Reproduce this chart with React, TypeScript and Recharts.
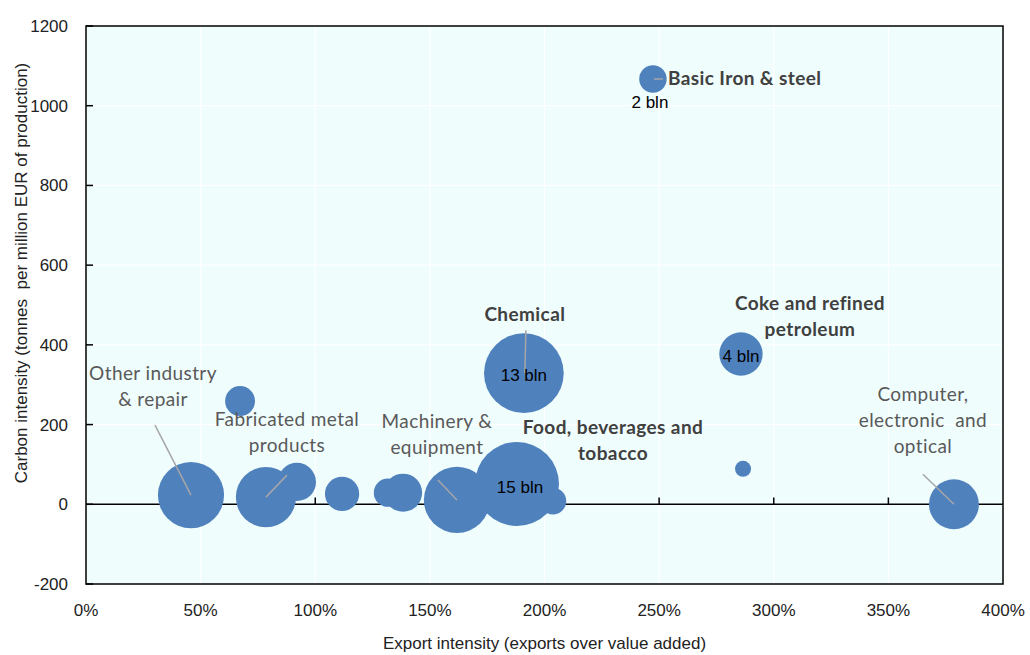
import React from 'react'
import {
  ScatterChart,
  Scatter,
  XAxis,
  YAxis,
  ZAxis,
  CartesianGrid,
  ReferenceLine,
  ReferenceArea,
  Label,
} from 'recharts'

// export intensity (share of value added), carbon intensity, output in bln EUR
const exportIntensity = [0.458, 0.672, 0.785, 0.92, 1.117, 1.317, 1.383, 1.618, 1.88, 2.037, 1.91, 2.473, 2.857, 2.866, 3.786]
const carbonIntensity = [23, 259, 18, 56, 26, 29, 29, 11, 51, 8, 329, 1067, 377, 89, 0]
const outputBln = [9.3, 1.9, 7.7, 3.1, 2.5, 1.7, 3.1, 9.3, 15, 1.5, 13.5, 1.6, 4, 0.55, 5.3]

const sectorLabels: string[][] = [
  ['Other industry', '& repair'],
  [],
  ['Fabricated metal', 'products'],
  [],
  [],
  [],
  [],
  ['Machinery &', 'equipment'],
  ['Food, beverages and', 'tobacco'],
  [],
  ['Chemical'],
  ['Basic Iron & steel'],
  ['Coke and refined', 'petroleum'],
  [],
  ['Computer,', 'electronic  and', 'optical'],
]
const sizeLabels = ['', '', '', '', '', '', '', '', '15 bln', '', '13 bln', '2 bln', '4 bln', '', '']

const xTicks = [0, 0.5, 1, 1.5, 2, 2.5, 3, 3.5, 4]
const yTicks = [-200, 0, 200, 400, 600, 800, 1000, 1200]

const data = exportIntensity.map((x, i) => ({
  id: i,
  x,
  y: carbonIntensity[i],
  z: outputBln[i],
}))

const AXIS_FONT = 'Arial, "Liberation Sans", sans-serif'
const NOTE_FONT = 'Lato, "Open Sans", sans-serif'
const BUBBLE = '#4f81bd'

// label placement relative to bubble centre, in px
type Note = {
  dx: number
  dy: number
  bold?: boolean
  anchor?: 'start' | 'middle' | 'end'
  leader?: [number, number, number, number]
  vdx?: number
  vdy?: number
}
const noteLayout: Record<number, Note> = {
  0: { dx: -38, dy: -121, leader: [-36, -70, 0, 0] },
  2: { dx: 21, dy: -77, leader: [21, -22, 0, 0] },
  7: { dx: -20, dy: -78, leader: [-19, -20, 0, 0] },
  8: { dx: 96, dy: -56, bold: true, vdx: 3, vdy: 3 },
  10: { dx: 1, dy: -58, bold: true, leader: [2, -43, 1, 0], vdx: 0, vdy: 2 },
  11: { dx: 15, dy: 0, bold: true, anchor: 'start', leader: [1, 0, 10, 0], vdx: -3, vdy: 23 },
  12: { dx: 69, dy: -50, bold: true, vdx: 0, vdy: 2 },
  14: { dx: -31, dy: -109, leader: [-31, -30, 0, 0] },
}

const XTick = ({ x, y, payload }: any) => (
  <text x={x} y={y + 32} textAnchor="middle" fontSize={17} fill="#222" fontFamily={AXIS_FONT}>
    {Math.round(payload.value * 100)}%
  </text>
)

const YTick = ({ x, y, payload }: any) => (
  <g>
    <line x1={x} x2={x + 7} y1={y} y2={y} stroke="#000" strokeWidth={1.5} />
    <text x={x - 18} y={y + 6} textAnchor="end" fontSize={17} fill="#222" fontFamily={AXIS_FONT}>
      {payload.value}
    </text>
  </g>
)

const NoteShape = (props: any) => {
  const { cx, cy, payload } = props
  const lay = noteLayout[payload.id]
  if (!lay) return <g />
  const lines = sectorLabels[payload.id]
  const value = sizeLabels[payload.id]
  return (
    <g>
      {lay.leader && (
        <line
          x1={cx + lay.leader[0]}
          y1={cy + lay.leader[1]}
          x2={cx + lay.leader[2]}
          y2={cy + lay.leader[3]}
          stroke="#a6a6a6"
          strokeWidth={1.5}
        />
      )}
      {lines.map((t, k) => (
        <text
          key={k}
          x={cx + lay.dx}
          y={cy + lay.dy + k * 26 + 6}
          textAnchor={lay.anchor || 'middle'}
          fontSize={19}
          letterSpacing={0.4}
          fontFamily={NOTE_FONT}
          fontWeight={lay.bold ? 700 : 400}
          fill={lay.bold ? '#404040' : '#595959'}
          style={{ whiteSpace: 'pre' }}
        >
          {t}
        </text>
      ))}
      {value && (
        <text
          x={cx + (lay.vdx || 0)}
          y={cy + (lay.vdy || 0) + 6}
          textAnchor="middle"
          fontSize={17}
          fontFamily={AXIS_FONT}
          fill="#000"
        >
          {value}
        </text>
      )}
    </g>
  )
}

export default function App() {
  return (
    <div style={{ position: 'absolute', left: 0, top: 0, width: 1030, height: 655, background: '#fff' }}>
      <ScatterChart width={1030} height={655} margin={{ top: 26, right: 27, left: 0, bottom: 0 }}>
        <CartesianGrid fill="#effdfd" stroke="#ffffff" strokeWidth={1.2} />
        <XAxis
          type="number"
          dataKey="x"
          domain={[0, 4]}
          ticks={xTicks}
          height={71}
          axisLine={false}
          tickLine={false}
          tickSize={0}
          tickMargin={0}
          tick={XTick}
          interval={0}
        >
          <Label
            content={({ viewBox }: any) => (
              <text
                x={viewBox.x + viewBox.width / 2}
                y={viewBox.y + 65}
                textAnchor="middle"
                fontSize={17}
                fill="#222"
                fontFamily={AXIS_FONT}
              >
                Export intensity (exports over value added)
              </text>
            )}
          />
        </XAxis>
        <YAxis
          type="number"
          dataKey="y"
          domain={[-200, 1200]}
          ticks={yTicks}
          width={86}
          axisLine={false}
          tickLine={false}
          tickSize={0}
          tickMargin={0}
          tick={YTick}
          interval={0}
        >
          <Label
            content={({ viewBox }: any) => {
              const cx = viewBox.x + 27
              const cy = viewBox.y + viewBox.height / 2 - 32
              return (
                <text
                  x={cx}
                  y={cy}
                  transform={`rotate(-90 ${cx} ${cy})`}
                  textAnchor="middle"
                  fontSize={17}
                  fill="#222"
                  fontFamily={AXIS_FONT}
                  style={{ whiteSpace: 'pre' }}
                >
                  Carbon intensity (tonnes  per million EUR of production)
                </text>
              )
            }}
          />
        </YAxis>
        <ZAxis type="number" dataKey="z" domain={[0, 15]} range={[0, Math.PI * 42 * 42]} />
        <ReferenceLine y={0} stroke="#000" strokeWidth={1.5} />
        {xTicks.slice(1, -1).map((t) => (
          <ReferenceLine
            key={t}
            segment={[
              { x: t, y: 0 },
              { x: t, y: 17 },
            ]}
            stroke="#000"
            strokeWidth={1.5}
          />
        ))}
        <ReferenceArea x1={0} x2={4} y1={-200} y2={1200} fill="none" stroke="#000" strokeWidth={1.5} />
        <Scatter data={data} fill={BUBBLE} isAnimationActive={false} />
        <Scatter data={data} shape={NoteShape} isAnimationActive={false} />
      </ScatterChart>
    </div>
  )
}
